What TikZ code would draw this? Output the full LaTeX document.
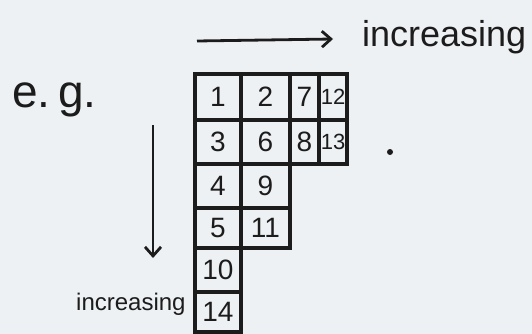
\documentclass[tikz,border=0pt]{standalone}
\usepackage{fontspec}
\setmainfont{Liberation Sans}
\usepackage{tikz}
\usetikzlibrary{arrows.meta,positioning}
\definecolor{Paper}{HTML}{EEF1F3}
\definecolor{Ink}{HTML}{1C1C1C}

\begin{document}
\begin{tikzpicture}[
  x=1pt, y=-1pt,
  >={Straight Barb[length=9pt,width=16pt]},
  % one box of the tableau
  cell/.style={draw=Ink, line width=4pt, inner sep=0pt, text=Ink,
               font=\fontsize{28}{28}\selectfont},
  narrow/.style={font=\fontsize{22}{22}\selectfont},
  % handwritten notes
  note/.style={text=Ink, inner sep=0pt},
  % arrows
  arr/.style={->, draw=Ink, line width=2.8pt},
]
\fill[Paper] (0,0) rectangle (532,334);
\useasboundingbox (0,0) rectangle (532,334);

%% -- Notes ------------------------------------------------------------------
\node[note, anchor=base west, font=\fontsize{46}{46}\selectfont]
      (eg)   at (12,107)  {e.\,g.};
\node[note, anchor=base west, font=\fontsize{36}{36}\selectfont]
      (incR) at (362,47)  {increasing};
\node[note, anchor=base west, font=\fontsize{24}{24}\selectfont]
      (incD) at (76,310)  {increasing};
\node[circle, fill=Ink, inner sep=0pt, minimum size=6pt] (dot) at (390,152) {};

%% -- Tableau (rows of 4,4,2,2,1,1) -------------------------------------------
\node[cell, minimum width=46pt, minimum height=46pt] (c11) at (218,97)    {1};
\node[cell, minimum width=49pt, minimum height=46pt] (c12) at (265.5,97)  {2};
\node[cell, minimum width=29pt, minimum height=46pt] (c13) at (304.5,97)  {7};
\node[cell, narrow, minimum width=28pt, minimum height=46pt] (c14) at (333,97) {12};

\node[cell, minimum width=46pt, minimum height=44pt] (c21) at (218,142)   {3};
\node[cell, minimum width=49pt, minimum height=44pt] (c22) at (265.5,142) {6};
\node[cell, minimum width=29pt, minimum height=44pt] (c23) at (304.5,142) {8};
\node[cell, narrow, minimum width=28pt, minimum height=44pt] (c24) at (333,142) {13};

\node[cell, minimum width=46pt, minimum height=44pt] (c31) at (218,186)   {4};
\node[cell, minimum width=49pt, minimum height=44pt] (c32) at (265.5,186) {9};

\node[cell, minimum width=46pt, minimum height=40pt] (c41) at (218,228)   {5};
\node[cell, minimum width=49pt, minimum height=40pt] (c42) at (265.5,228) {11};

\node[cell, minimum width=46pt, minimum height=44pt] (c51) at (218,270)   {10};
\node[cell, minimum width=46pt, minimum height=40pt] (c61) at (218,312)   {14};

%% -- Arrows ------------------------------------------------------------------
\coordinate (hS) at (197,41);
\coordinate (hE) at (333,39);
\coordinate (vS) at (153,125);
\coordinate (vE) at (153,258);
\draw[arr] (hS) -- (hE);
\draw[arr] (vS) -- (vE);

\end{tikzpicture}
\end{document}
